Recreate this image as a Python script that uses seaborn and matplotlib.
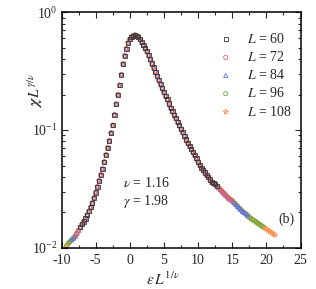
import numpy as np
import pandas as pd
import matplotlib
matplotlib.use("Agg")
import matplotlib.pyplot as plt
import matplotlib.ticker as mticker
import seaborn as sns

# scaled variable eps*L^(1/nu), sampled every 0.25
x_grid = np.arange(-9.75, 21.26, 0.25)
# log10 of chi*L^(-gamma/nu)
log_chi = [
    -2.02, -2.00, -1.98, -1.96, -1.945, -1.93, -1.915, -1.90, -1.875, -1.85,
    -1.825, -1.80, -1.775, -1.75, -1.72, -1.69, -1.655, -1.62, -1.575, -1.53,
    -1.48, -1.43, -1.38, -1.33, -1.27, -1.21, -1.15, -1.09, -1.025, -0.96,
    -0.87, -0.78, -0.70, -0.62, -0.53, -0.44, -0.37, -0.31, -0.26, -0.23,
    -0.21, -0.20, -0.195, -0.20, -0.21, -0.23, -0.255, -0.28, -0.305, -0.33,
    -0.365, -0.40, -0.435, -0.47, -0.505, -0.54, -0.575, -0.61, -0.645, -0.68,
    -0.71, -0.74, -0.775, -0.81, -0.84, -0.87, -0.90, -0.93, -0.96, -0.99,
    -1.02, -1.05, -1.08, -1.11, -1.135, -1.16, -1.185, -1.21, -1.24, -1.27,
    -1.295, -1.32, -1.34, -1.36, -1.38, -1.40, -1.42, -1.44, -1.45, -1.46,
    -1.475, -1.49, -1.505, -1.52, -1.535, -1.55, -1.565, -1.58, -1.59, -1.60,
    -1.615, -1.63, -1.645, -1.66, -1.675, -1.69, -1.70, -1.71, -1.725, -1.74,
    -1.75, -1.76, -1.77, -1.78, -1.79, -1.80, -1.81, -1.82, -1.83, -1.84,
    -1.85, -1.86, -1.87, -1.88, -1.89,
]

sizes = [60, 72, 84, 96, 108]
x_start = [-7.25, -8.0, -8.5, -9.25, -9.75]
x_end = [12.75, 15.0, 17.25, 19.5, 21.25]
colors = ["#3a3a3a", "#f06060", "#6070f0", "#60b040", "#ff8a4a"]
markers = ["s", "o", "^", "o", "*"]

sns.set_style("ticks")
plt.rcParams["font.family"] = ["Liberation Serif", "DejaVu Serif"]
plt.rcParams["mathtext.fontset"] = "stix"
plt.rcParams["axes.unicode_minus"] = False

fig = plt.figure(figsize=(3.16, 2.89), dpi=100)
ax = fig.add_axes([0.195, 0.142, 0.756, 0.816])

chi = 10 ** np.array(log_chi)
for i in reversed(range(len(sizes))):
    m = (x_grid >= x_start[i] - 1e-9) & (x_grid <= x_end[i] + 1e-9)
    sns.scatterplot(x=x_grid[m], y=chi[m], ax=ax, marker=markers[i],
                    s=9 if markers[i] != "*" else 16,
                    facecolor="none", edgecolor=colors[i], linewidth=0.6,
                    label=f"$L$ = {sizes[i]}")

ax.set_yscale("log")
ax.set_xlim(-10, 25)
ax.set_ylim(1e-2, 1e0)
ax.xaxis.set_major_locator(mticker.MultipleLocator(5))
ax.xaxis.set_minor_locator(mticker.MultipleLocator(2.5))
ax.yaxis.set_minor_locator(mticker.LogLocator(base=10, subs=np.arange(2, 10)))
ax.yaxis.set_minor_formatter(mticker.NullFormatter())
ax.tick_params(which="both", direction="in", top=True, right=True,
               labelsize=10, width=0.8)
ax.tick_params(axis="x", pad=4)
ax.tick_params(axis="y", pad=3)
ax.tick_params(which="major", length=4)
ax.tick_params(which="minor", length=2.5)
for s in ax.spines.values():
    s.set_linewidth(1.1)
    s.set_color("black")

ax.set_xlabel(r"$\varepsilon\, L^{1/\nu}$", fontsize=11)
ax.set_ylabel(r"$\boldsymbol{\chi}\, L^{\,\gamma/\nu}$", fontsize=11)
ax.xaxis.set_label_coords(0.425, -0.095)
ax.yaxis.set_label_coords(-0.068, 0.67)

ax.text(-1.0, 10 ** -1.45, r"$\nu$ = 1.16", fontsize=10, va="center", ha="left")
ax.text(-1.0, 10 ** -1.61, r"$\gamma$ = 1.98", fontsize=10, va="center", ha="left")
ax.text(21.8, 10 ** -1.76, "(b)", fontsize=10, va="center", ha="left")

handles, labels = ax.get_legend_handles_labels()
ax.legend(handles[::-1], labels[::-1], loc="upper right", frameon=False,
          fontsize=10, handletextpad=0.5, labelspacing=0.3, markerscale=1.0,
          borderaxespad=0.0, bbox_to_anchor=(0.985, 0.94))

fig.savefig("out.png", dpi=100)
